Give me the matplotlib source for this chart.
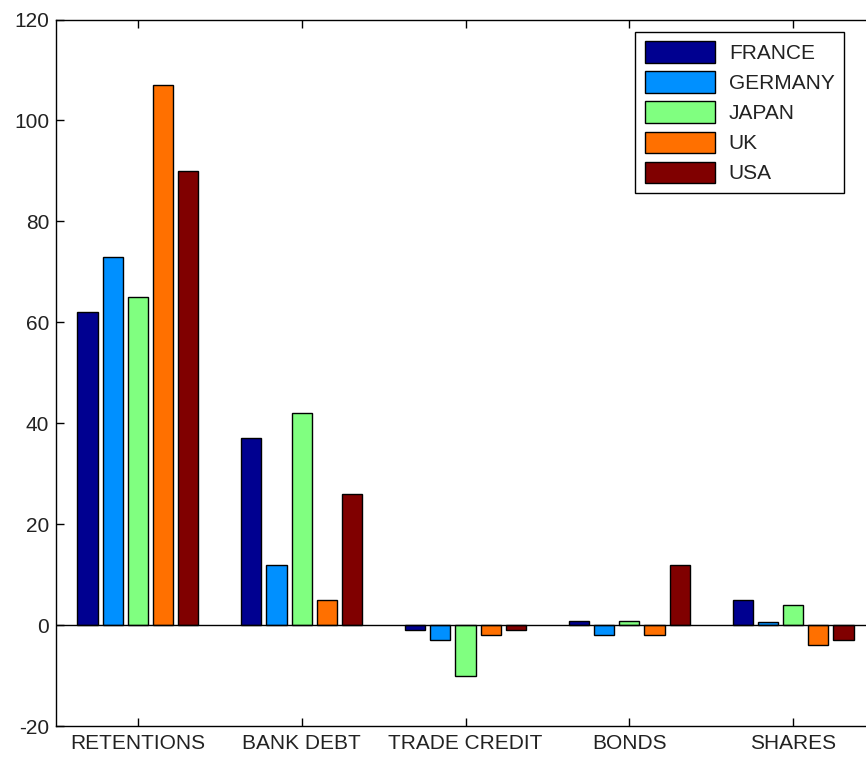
import numpy as np
import matplotlib.pyplot as plt

plt.rcParams['font.family'] = ['Liberation Sans', 'DejaVu Sans']
plt.rcParams['axes.unicode_minus'] = False

categories = ['RETENTIONS', 'BANK DEBT', 'TRADE CREDIT', 'BONDS', 'SHARES']
countries = ['FRANCE', 'GERMANY', 'JAPAN', 'UK', 'USA']

france = [62, 37, -1, 0.8, 5]
germany = [73, 12, -3, -2, 0.7]
japan = [65, 42, -10, 0.8, 4]
uk = [107, 5, -2, -2, -4]
usa = [90, 26, -1, 12, -3]

colors = ['#000090', '#0090ff', '#80ff80', '#ff7000', '#800000']

series = [france, germany, japan, uk, usa]

fig = plt.figure(figsize=(8.66, 7.57), dpi=100)
# right edge of the axes runs just past the figure border
ax = fig.add_axes([56 / 866, 1 - 726 / 757, 819 / 866, 706.5 / 757])

x = np.arange(1, len(categories) + 1)
n = len(series)
group_w = min(0.8, n / (n + 1.5))
step = group_w / n
bar_w = 0.8 * step

for i, (vals, col, name) in enumerate(zip(series, colors, countries)):
    offs = (i - (n - 1) / 2) * step
    ax.bar(x + offs, vals, width=bar_w, color=col, edgecolor='black',
           linewidth=1.0, label=name, zorder=2)

ax.axhline(0, color='black', linewidth=1.0, zorder=3)

ax.set_xlim(0.5, 5.5)
ax.set_ylim(-20, 120)
ax.set_xticks(x)
ax.set_xticklabels(categories)
ax.set_yticks(np.arange(-20, 121, 20))

ax.tick_params(direction='in', length=6, width=1, top=True, right=False,
               labelsize=15, colors='black', labelcolor='#222222')
ax.tick_params(axis='y', pad=5)
ax.tick_params(axis='x', pad=6)
for sp in ax.spines.values():
    sp.set_linewidth(1.0)
ax.spines['right'].set_visible(False)

leg = ax.legend(loc='upper right', bbox_to_anchor=(844 / 866, 1 - 32 / 757),
                bbox_transform=fig.transFigure, fontsize=15,
                frameon=True, fancybox=False, framealpha=1,
                edgecolor='black', handlelength=3.4, handleheight=1.2,
                handletextpad=0.65, labelspacing=0.4, borderpad=0.45,
                borderaxespad=0)
leg.get_frame().set_linewidth(1.0)
for t in leg.get_texts():
    t.set_color('#222222')

fig.savefig('out.png', dpi=100)
